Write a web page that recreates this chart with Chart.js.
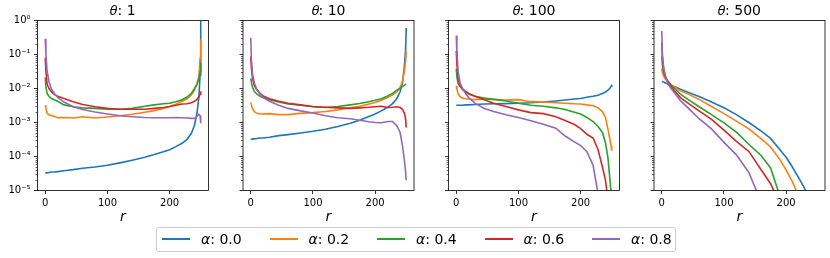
<!DOCTYPE html>
<html>
<head>
<meta charset="utf-8">
<script src="https://cdn.jsdelivr.net/npm/chart.js@4.4.1/dist/chart.umd.min.js"></script>
<style>
html,body{margin:0;padding:0;background:#fff;}
#wrap{position:relative;width:830px;height:258px;overflow:hidden;background:#fff;}
#wrap canvas{position:absolute;left:0;top:0;}
#legend{position:absolute;left:156px;top:227px;width:518px;height:23px;border:1px solid #cccccc;border-radius:3px;background:rgba(255,255,255,0.8);font-family:'DejaVu Sans';font-size:14px;color:#000;}
.item{position:absolute;top:0;height:23px;}
.sw{position:absolute;left:0;top:10px;width:28px;height:2px;}
.lbl{position:absolute;left:39px;top:2px;white-space:nowrap;line-height:18px;}
</style>
</head>
<body>
<div id="wrap">
  <canvas id="c0" width="830" height="258"></canvas>
  <canvas id="c1" width="830" height="258"></canvas>
  <canvas id="c2" width="830" height="258"></canvas>
  <canvas id="c3" width="830" height="258"></canvas>
  <div id="legend"></div>
</div>
<script>
// ---- data ----
const r = [0,1,3,6,10,15,20,30,45,60,80,100,120,140,160,175,190,200,210,220,228,235,240,244,247,249,250];
const thetas = ['1','10','100','500'];
const alphas = ['0.0','0.2','0.4','0.6','0.8'];
const xTicks = [0,100,200];
const yTicks = [1e-5,1e-4,1e-3,1e-2,1e-1,1];

// theta = 1
const t1_a00 = [3.3e-5,3.3e-5,3.3e-5,3.4e-5,3.5e-5,3.5e-5,3.6e-5,3.8e-5,4.1e-5,4.5e-5,4.9e-5,5.5e-5,6.5e-5,7.8e-5,9.5e-5,1.15e-4,1.38e-4,1.58e-4,1.95e-4,2.45e-4,3.2e-4,4.8e-4,8.3e-4,1.9e-3,5.6e-3,2.5e-2,1.0];
const t1_a02 = [3.2e-3,2.6e-3,1.9e-3,1.66e-3,1.62e-3,1.5e-3,1.38e-3,1.41e-3,1.35e-3,1.48e-3,1.35e-3,1.45e-3,1.58e-3,1.74e-3,2.0e-3,2.24e-3,2.57e-3,2.95e-3,3.47e-3,4.2e-3,5.0e-3,6.6e-3,8.9e-3,1.4e-2,2.3e-2,7.9e-2,0.28];
const t1_a04 = [2.1e-2,1.12e-2,7.1e-3,5.8e-3,5.1e-3,4.6e-3,4.2e-3,3.3e-3,2.9e-3,2.7e-3,2.6e-3,2.45e-3,2.45e-3,2.6e-3,3.0e-3,3.3e-3,3.55e-3,3.7e-3,4.1e-3,4.7e-3,5.6e-3,7.2e-3,1.0e-2,1.35e-2,1.86e-2,3.2e-2,5.6e-2];
const t1_a06 = [8.1e-2,3.2e-2,1.32e-2,1.0e-2,7.9e-3,6.6e-3,5.9e-3,5.1e-3,4.1e-3,3.4e-3,2.9e-3,2.6e-3,2.45e-3,2.45e-3,2.45e-3,2.6e-3,2.75e-3,2.95e-3,3.2e-3,3.5e-3,3.55e-3,3.8e-3,4.2e-3,4.8e-3,5.6e-3,6.8e-3,8.3e-3];
const t1_a08 = [0.29,0.1,3.2e-2,1.58e-2,9.5e-3,6.9e-3,5.5e-3,4.0e-3,2.9e-3,2.4e-3,2.04e-3,1.78e-3,1.58e-3,1.48e-3,1.41e-3,1.38e-3,1.38e-3,1.38e-3,1.41e-3,1.38e-3,1.35e-3,1.32e-3,1.32e-3,1.51e-3,1.74e-3,1.58e-3,9.5e-4];

// theta = 10
const t10_a00 = [3.2e-4,3.2e-4,3.3e-4,3.3e-4,3.4e-4,3.5e-4,3.5e-4,3.7e-4,4.1e-4,4.4e-4,4.9e-4,5.5e-4,6.3e-4,7.6e-4,9.5e-4,1.17e-3,1.51e-3,1.78e-3,2.2e-3,2.8e-3,3.6e-3,5.1e-3,7.9e-3,1.48e-2,4.5e-2,0.14,0.6];
const t10_a02 = [3.9e-3,3.3e-3,2.5e-3,2.04e-3,1.86e-3,1.78e-3,1.78e-3,1.82e-3,1.7e-3,1.7e-3,1.86e-3,1.95e-3,2.1e-3,2.35e-3,2.7e-3,3.0e-3,3.5e-3,3.9e-3,4.5e-3,5.4e-3,6.5e-3,8.1e-3,1.05e-2,1.66e-2,3.2e-2,6.3e-2,0.126];
const t10_a04 = [2.0e-2,1.51e-2,1.05e-2,8.1e-3,6.8e-3,5.9e-3,5.4e-3,4.7e-3,4.0e-3,3.5e-3,3.2e-3,2.9e-3,2.75e-3,2.95e-3,3.3e-3,3.6e-3,4.1e-3,4.5e-3,5.0e-3,6.0e-3,7.2e-3,8.9e-3,1.02e-2,1.15e-2,1.23e-2,1.32e-2,1.35e-2];
const t10_a06 = [8.7e-2,4.0e-2,1.9e-2,1.17e-2,9.1e-3,7.2e-3,6.0e-3,5.0e-3,4.2e-3,3.7e-3,3.3e-3,2.95e-3,2.8e-3,2.7e-3,2.6e-3,2.7e-3,2.8e-3,2.9e-3,3.0e-3,2.75e-3,2.8e-3,2.9e-3,2.75e-3,2.45e-3,1.9e-3,1.26e-3,7.1e-4];
const t10_a08 = [0.31,7.2e-2,2.5e-2,1.41e-2,9.1e-3,6.8e-3,5.4e-3,4.2e-3,3.2e-3,2.6e-3,2.2e-3,1.9e-3,1.58e-3,1.38e-3,1.29e-3,1.17e-3,1.05e-3,1.0e-3,9.8e-4,1.07e-3,1.07e-3,7.9e-4,5.2e-4,2.1e-4,7.9e-5,3.5e-5,2.0e-5];

// theta = 100
const t100_a00 = [3.2e-3,3.2e-3,3.2e-3,3.2e-3,3.2e-3,3.3e-3,3.3e-3,3.4e-3,3.5e-3,3.55e-3,3.6e-3,3.7e-3,3.8e-3,4.0e-3,4.3e-3,4.6e-3,4.9e-3,5.1e-3,5.5e-3,5.9e-3,6.3e-3,7.1e-3,7.9e-3,8.9e-3,1.02e-2,1.17e-2,1.32e-2];
const t100_a02 = [1.2e-2,9.5e-3,6.9e-3,5.8e-3,5.2e-3,5.0e-3,4.9e-3,4.7e-3,4.9e-3,4.8e-3,4.6e-3,4.7e-3,4.1e-3,4.0e-3,3.8e-3,3.7e-3,3.55e-3,3.5e-3,3.3e-3,3.1e-3,2.7e-3,2.1e-3,1.41e-3,6.3e-4,3.2e-4,2.0e-4,1.48e-4];
const t100_a04 = [3.8e-2,2.2e-2,1.38e-2,1.15e-2,9.8e-3,8.3e-3,7.2e-3,5.9e-3,5.2e-3,4.8e-3,4.3e-3,3.7e-3,3.2e-3,3.0e-3,2.7e-3,2.4e-3,2.0e-3,1.78e-3,1.41e-3,1.07e-3,7.6e-4,5.1e-4,2.5e-4,8.9e-5,2.2e-5,8.9e-6,5.0e-6];
const t100_a06 = [0.126,5.0e-2,1.9e-2,1.2e-2,9.3e-3,7.9e-3,6.9e-3,5.9e-3,4.7e-3,3.7e-3,2.95e-3,2.35e-3,1.95e-3,1.82e-3,1.48e-3,1.15e-3,8.7e-4,6.6e-4,4.5e-4,3.5e-4,1.58e-4,5.0e-5,2.0e-5,5.0e-6,null,null,null];
const t100_a08 = [0.36,0.112,3.2e-2,1.48e-2,1.0e-2,7.1e-3,5.4e-3,3.7e-3,2.6e-3,2.1e-3,1.7e-3,1.41e-3,1.12e-3,8.9e-4,6.8e-4,4.0e-4,2.7e-4,2.1e-4,1.38e-4,5.6e-5,7.9e-6,null,null,null,null,null,null];

// theta = 500
const t500_a00 = [1.62e-2,1.58e-2,1.55e-2,1.45e-2,1.35e-2,1.23e-2,1.15e-2,9.5e-3,7.4e-3,5.8e-3,4.0e-3,2.7e-3,1.7e-3,1.0e-3,5.6e-4,3.4e-4,1.58e-4,9.5e-5,4.9e-5,2.4e-5,1.32e-5,7.1e-6,null,null,null,null,null];
const t500_a02 = [3.9e-2,3.0e-2,2.3e-2,1.86e-2,1.55e-2,1.29e-2,1.12e-2,8.5e-3,6.5e-3,4.8e-3,2.95e-3,1.82e-3,1.1e-3,6.5e-4,3.3e-4,1.9e-4,8.1e-5,4.0e-5,1.82e-5,6.8e-6,null,null,null,null,null,null,null];
const t500_a04 = [8.7e-2,5.0e-2,3.0e-2,2.1e-2,1.62e-2,1.26e-2,1.02e-2,6.8e-3,4.4e-3,2.9e-3,1.7e-3,9.8e-4,5.2e-4,2.3e-4,1.05e-4,4.6e-5,6.8e-6,null,null,null,null,null,null,null,null,null,null];
const t500_a06 = [0.22,8.9e-2,3.5e-2,2.2e-2,1.58e-2,1.15e-2,8.7e-3,5.4e-3,3.4e-3,2.2e-3,1.23e-3,6.0e-4,2.8e-4,1.41e-4,4.0e-5,1.58e-5,4.0e-6,null,null,null,null,null,null,null,null,null,null];
const t500_a08 = [0.49,9.1e-2,4.2e-2,2.3e-2,1.38e-2,1.0e-2,7.6e-3,4.4e-3,2.4e-3,1.29e-3,6.5e-4,2.6e-4,1.12e-4,3.4e-5,4.5e-6,null,null,null,null,null,null,null,null,null,null,null,null];

const panels = [
  [t1_a00,t1_a02,t1_a04,t1_a06,t1_a08],
  [t10_a00,t10_a02,t10_a04,t10_a06,t10_a08],
  [t100_a00,t100_a02,t100_a04,t100_a06,t100_a08],
  [t500_a00,t500_a02,t500_a04,t500_a06,t500_a08]
];

// ---- styling / layout ----
const colors = ['#1f77b4','#ff7f0e','#2ca02c','#d62728','#9467bd'];
const FONT = 'DejaVu Sans';
const plotLeft = [37.5, 243, 448.5, 654];
const plotW = 171;
const YW = 37.5;       // y axis box width
const XH = 67.5;       // x axis box height -> chart bottom at 190.5
Chart.defaults.font.family = FONT;
Chart.defaults.color = '#000';

const SUP = {'-':'\u207B','0':'\u2070','1':'\u00B9','2':'\u00B2','3':'\u00B3','4':'\u2074','5':'\u2075','6':'\u2076','7':'\u2077','8':'\u2078','9':'\u2079'};
function powLabel(v){
  const e = String(Math.round(Math.log10(v)));
  return '10' + e.split('').map(c => SUP[c]).join('');
}

const framePlugin = {
  id: 'frame',
  afterDraw(chart){
    const ctx = chart.ctx, a = chart.chartArea, y = chart.scales.y;
    ctx.save();
    // minor ticks
    ctx.strokeStyle = '#000';
    ctx.lineWidth = 0.6;
    ctx.beginPath();
    for (let k = -5; k < 0; k++) {
      for (let m = 2; m < 10; m++) {
        const py = Math.round(y.getPixelForValue(m * Math.pow(10, k))) + 0.5;
        ctx.moveTo(a.left - 2, py);
        ctx.lineTo(a.left, py);
      }
    }
    ctx.stroke();
    // spines
    ctx.lineWidth = 0.8;
    ctx.strokeRect(a.left, a.top, a.right - a.left, a.bottom - a.top);
    ctx.restore();
  }
};

for (let p = 0; p < 4; p++) {
  const datasets = panels[p].map((arr, k) => ({
    label: '\u03B1: ' + alphas[k],
    data: arr.map((v, i) => ({x: r[i], y: v})),
    borderColor: colors[k],
    backgroundColor: colors[k],
    borderWidth: 1.6,
    pointRadius: 0,
    tension: 0,
    fill: false,
    spanGaps: false,
    clip: 0,
    order: 4 - k
  }));
  new Chart(document.getElementById('c' + p), {
    type: 'line',
    data: {datasets},
    plugins: [framePlugin],
    options: {
      responsive: false,
      animation: false,
      devicePixelRatio: 1,
      events: [],
      layout: {padding: {left: plotLeft[p] - YW, right: 830 - plotLeft[p] - plotW, top: 0, bottom: 0}},
      plugins: {
        legend: {display: false},
        tooltip: {enabled: false},
        title: {
          display: true,
          text: '\u{1D703}: ' + thetas[p],
          fullSize: false,
          color: '#000',
          font: {family: FONT, size: 14, weight: 'normal', lineHeight: 1.2},
          padding: {top: 3.3, bottom: 0.4}
        }
      },
      scales: {
        x: {
          type: 'linear',
          min: -12.5,
          max: 262.5,
          afterBuildTicks: s => { s.ticks = xTicks.map(v => ({value: v})); },
          afterFit: s => { s.height = XH; },
          border: {display: false},
          grid: {display: true, drawOnChartArea: false, drawTicks: true, tickLength: 3.5, tickColor: '#000', tickWidth: 0.8},
          ticks: {font: {family: FONT, size: 10}, color: '#000', padding: 3, maxRotation: 0, autoSkip: false},
          title: {display: true, text: 'r', color: '#000', font: {family: FONT, size: 14, style: 'italic'}, padding: {top: 0, bottom: 32.6}}
        },
        y: {
          type: 'logarithmic',
          min: 1e-5,
          max: 1,
          afterBuildTicks: s => { s.ticks = yTicks.map(v => ({value: v})); },
          afterFit: s => { s.width = YW; },
          border: {display: false},
          grid: {display: true, drawOnChartArea: false, drawTicks: true, tickLength: 3.5, tickColor: '#000', tickWidth: 0.8},
          ticks: {
            font: {family: FONT, size: 10},
            color: '#000',
            padding: 3.5,
            autoSkip: false,
            callback: v => p === 0 ? powLabel(v) : ''
          }
        }
      }
    }
  });
}

// legend (HTML)
const leg = document.getElementById('legend');
alphas.forEach((a, k) => {
  const it = document.createElement('div');
  it.className = 'item';
  it.style.left = (5 + k * 107.5) + 'px';
  const sw = document.createElement('div');
  sw.className = 'sw';
  sw.style.background = colors[k];
  const lb = document.createElement('div');
  lb.className = 'lbl';
  lb.innerHTML = '<i>\u03B1</i>: ' + a;
  it.appendChild(sw); it.appendChild(lb);
  leg.appendChild(it);
});
</script>
</body>
</html>
